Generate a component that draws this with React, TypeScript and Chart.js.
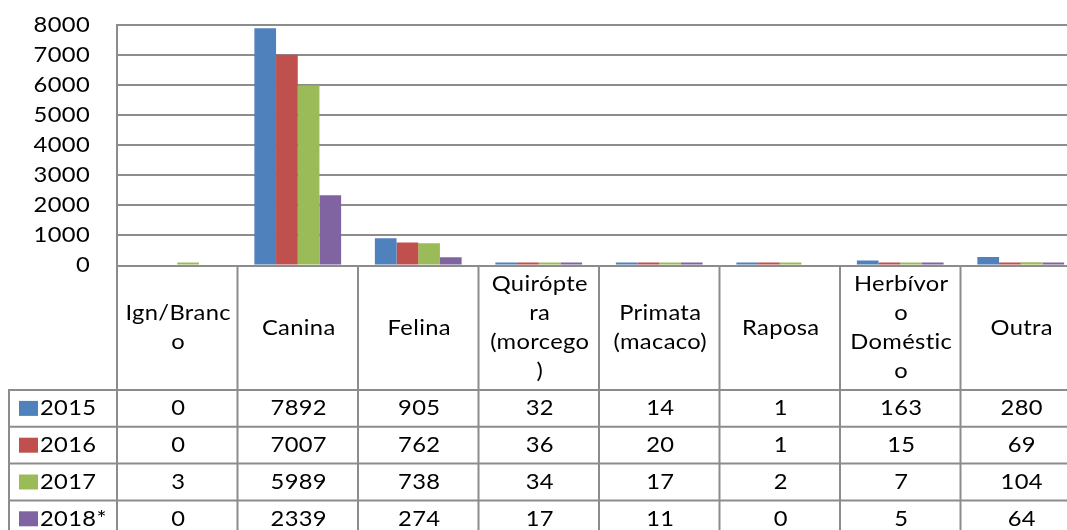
import { useEffect, useRef } from "react";
import { Chart, registerables } from "chart.js";

Chart.register(...registerables);

const categoryLines: string[][] = [
  ["Ign/Branc", "o"],
  ["Canina"],
  ["Felina"],
  ["Quirópte", "ra", "(morcego", ")"],
  ["Primata", "(macaco)"],
  ["Raposa"],
  ["Herbívor", "o", "Doméstic", "o"],
  ["Outra"],
];
const seriesLabels = ["2015", "2016", "2017", "2018*"];
const values2015 = [0, 7892, 905, 32, 14, 1, 163, 280];
const values2016 = [0, 7007, 762, 36, 20, 1, 15, 69];
const values2017 = [3, 5989, 738, 34, 17, 2, 7, 104];
const values2018 = [0, 2339, 274, 17, 11, 0, 5, 64];
const seriesValues = [values2015, values2016, values2017, values2018];
const seriesColors = ["#4F81BD", "#C0504D", "#9BBB59", "#8064A2"];
const yTickValues = [0, 1000, 2000, 3000, 4000, 5000, 6000, 7000, 8000];

const FONT = "Lato";
const FONT_SIZE = 21;
const STRETCH = 1.13;
const LETTER_SPACING = "0.3px";
const LINE_COLOR = "#8c8c8c";
const HEADER_H = 124.5;
const ROW_H = 36.8;
const LEGEND_LEFT = 9;
const LINE_GAP = 29;

function drawText(ctx: CanvasRenderingContext2D, text: string, x: number, y: number, align: CanvasTextAlign) {
  ctx.save();
  ctx.translate(x, y);
  ctx.scale(STRETCH, 1);
  ctx.textAlign = align;
  ctx.fillText(text, 0, 0);
  ctx.restore();
}

const tablePlugin = {
  id: "dataTable",
  afterDraw(chart: any) {
    const { ctx, chartArea } = chart;
    const xs = chart.scales.x;
    const ys = chart.scales.y;
    const n = categoryLines.length;
    const colW = (chartArea.right - chartArea.left) / n;
    const centers = categoryLines.map((_, i) => xs.getPixelForValue(i));
    const edges = centers.map((c) => c - colW / 2).concat([centers[n - 1] + colW / 2]);
    const top = chartArea.bottom;
    const headerBottom = top + HEADER_H;
    const bottom = chart.height;

    ctx.save();
    ctx.strokeStyle = LINE_COLOR;
    ctx.lineWidth = 2;
    ctx.beginPath();
    edges.forEach((ex) => {
      ctx.moveTo(ex, top);
      ctx.lineTo(ex, bottom);
    });
    ctx.moveTo(LEGEND_LEFT, headerBottom);
    ctx.lineTo(LEGEND_LEFT, bottom);
    for (let r = 0; r <= seriesLabels.length; r++) {
      const y = headerBottom + r * ROW_H;
      ctx.moveTo(LEGEND_LEFT - 1, y);
      ctx.lineTo(edges[n], y);
    }
    ctx.stroke();

    ctx.fillStyle = "#000";
    ctx.font = `${FONT_SIZE}px ${FONT}`;
    (ctx as any).letterSpacing = LETTER_SPACING;
    ctx.textBaseline = "middle";

    yTickValues.forEach((v) => {
      drawText(ctx, String(v), 90, ys.getPixelForValue(v), "right");
    });

    const headerMid = (top + headerBottom) / 2;
    categoryLines.forEach((lines, i) => {
      const start = headerMid - ((lines.length - 1) * LINE_GAP) / 2;
      lines.forEach((t, k) => {
        drawText(ctx, t, centers[i] + 1, start + k * LINE_GAP, "center");
      });
    });

    seriesValues.forEach((vals, s) => {
      const yMid = headerBottom + s * ROW_H + ROW_H / 2;
      vals.forEach((v, i) => {
        drawText(ctx, String(v), centers[i] + 1, yMid, "center");
      });
      ctx.fillStyle = seriesColors[s];
      ctx.fillRect(19, yMid - 7.5, 19, 15);
      ctx.fillStyle = "#000";
      drawText(ctx, seriesLabels[s], 40, yMid, "left");
    });
    ctx.restore();
  },
};

export default function App() {
  const ref = useRef<HTMLCanvasElement | null>(null);
  useEffect(() => {
    if (!ref.current) return;
    const chart = new Chart(ref.current, {
      type: "bar",
      data: {
        labels: categoryLines.map((l) => l.join("")),
        datasets: seriesValues.map((vals, s) => ({
          label: seriesLabels[s],
          data: vals.map((v) => (v === 0 ? null : v)),
          backgroundColor: seriesColors[s],
          borderWidth: 0,
          barPercentage: 1,
          categoryPercentage: 0.72,
          minBarLength: 3,
        })),
      },
      options: {
        responsive: false,
        animation: false,
        layout: { padding: { left: 0, top: 25, right: 9, bottom: 264.5 } },
        plugins: { legend: { display: false }, tooltip: { enabled: false } },
        scales: {
          x: { display: false },
          y: {
            min: yTickValues[0],
            max: yTickValues[yTickValues.length - 1],
            afterFit: (scale: any) => {
              scale.width = 117;
            },
            ticks: { stepSize: 1000, display: false },
            grid: { color: LINE_COLOR, lineWidth: 2, drawTicks: false },
            border: { display: true, color: LINE_COLOR, width: 2 },
          },
        },
      },
      plugins: [tablePlugin],
    });
    return () => chart.destroy();
  }, []);
  return (
    <div
      style={{
        position: "fixed",
        left: 0,
        top: 0,
        width: 1067,
        height: 530,
        overflow: "hidden",
        background: "#fff",
      }}
    >
      <canvas ref={ref} width={1090} height={530} style={{ width: 1090, height: 530, display: "block" }} />
    </div>
  );
}
